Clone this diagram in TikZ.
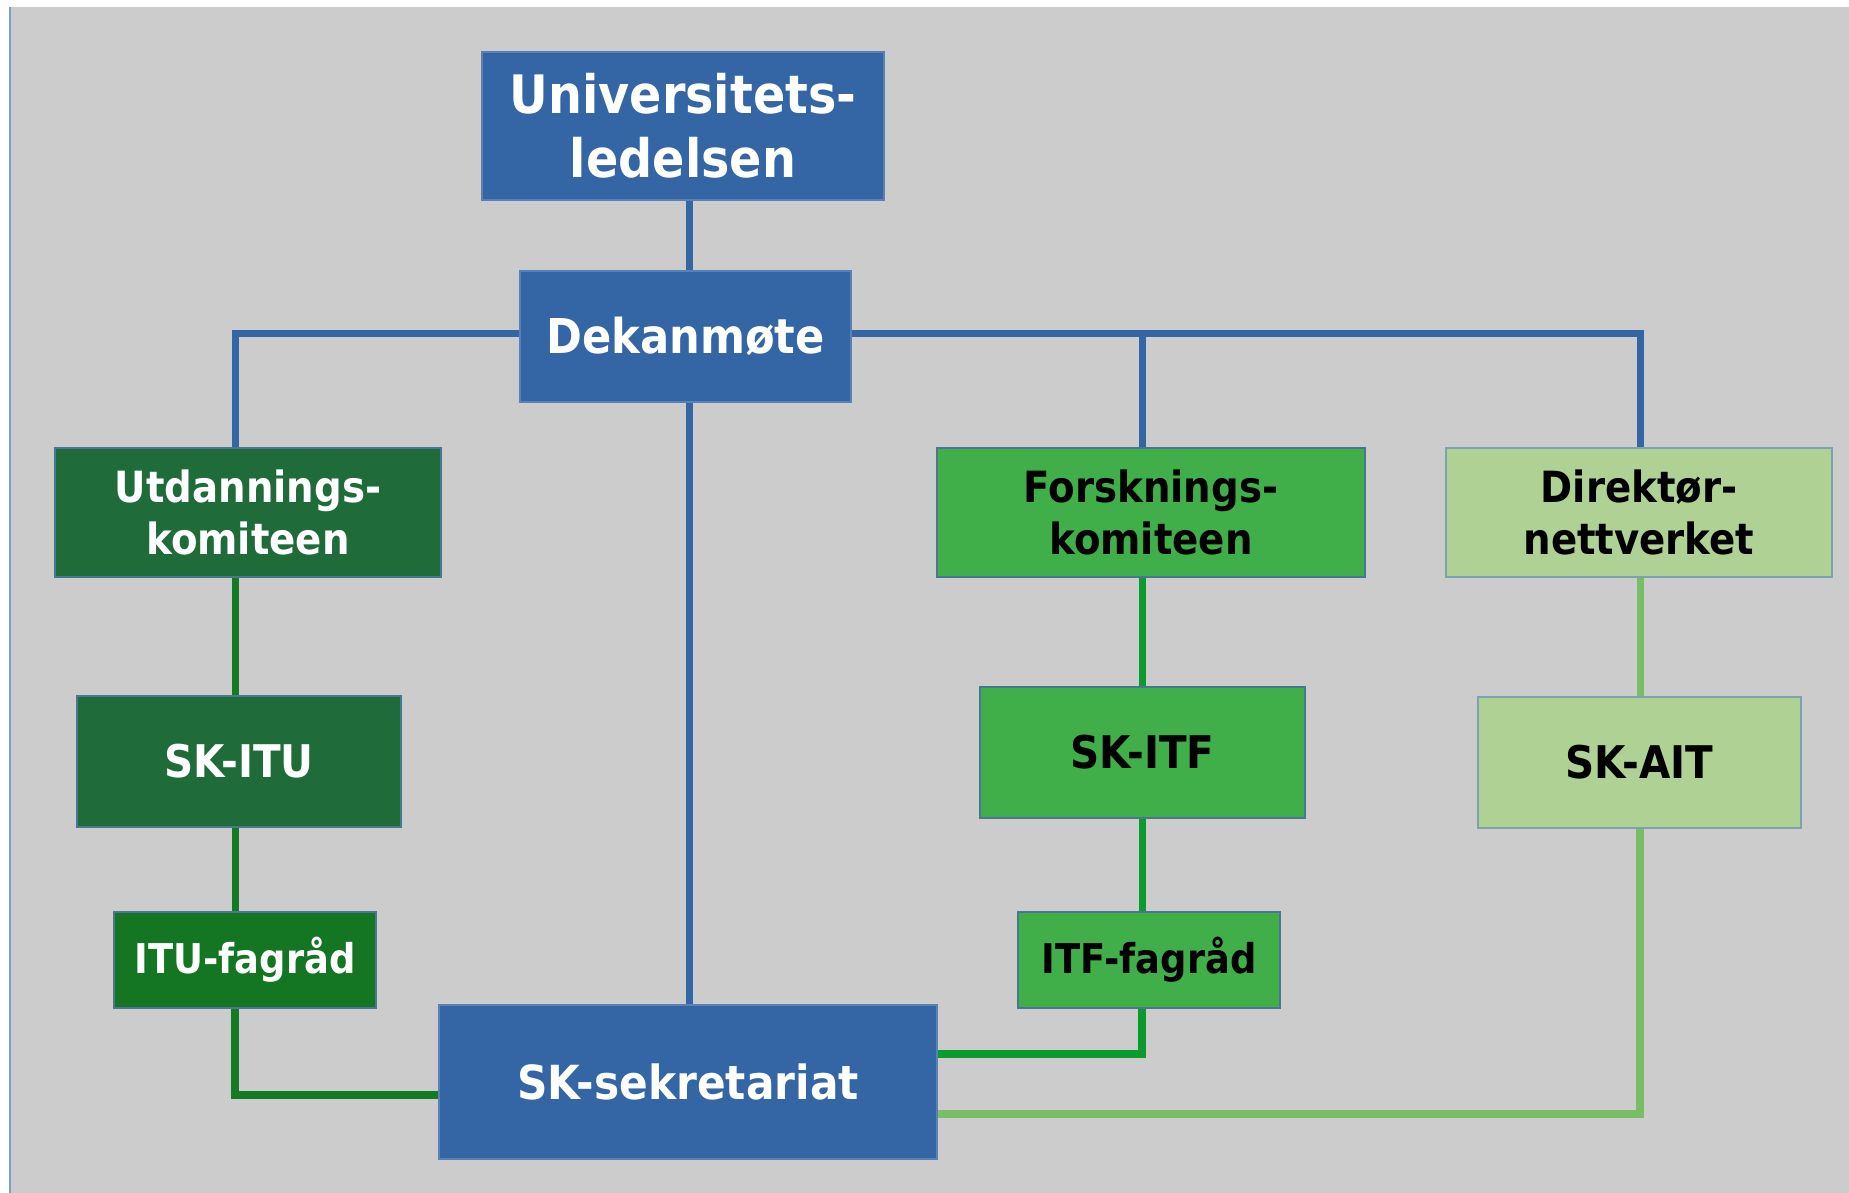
\documentclass[tikz,border=0pt]{standalone}
\usepackage{fontspec}
\newfontfamily\bx[FakeStretch=0.9]{DejaVu Sans}
\definecolor{bggray}{HTML}{CCCCCC}
\definecolor{frameline}{HTML}{7F9CC4}
\definecolor{boxblue}{HTML}{3465A4}
\definecolor{blueedge}{HTML}{5A80B5}
\definecolor{darkgreen}{HTML}{1F6B3A}
\definecolor{fagdark}{HTML}{147522}
\definecolor{midgreen}{HTML}{40AE49}
\definecolor{lightgreen}{HTML}{AFD194}
\definecolor{greenedge}{HTML}{4A7691}
\definecolor{lightedge}{HTML}{7FA2B0}
\definecolor{lineblue}{HTML}{3465A4}
\definecolor{linedark}{HTML}{167A25}
\definecolor{linemid}{HTML}{0B9A2E}
\definecolor{linelight}{HTML}{79BD67}
\pgfdeclarelayer{bg}
\pgfsetlayers{bg,main}
\begin{document}
\begin{tikzpicture}[x=0.5pt,y=-0.5pt,
  orgbox/.style={rectangle, inner sep=0pt, align=center, line width=1pt},
  blueb/.style={orgbox, fill=boxblue, draw=blueedge, text=white},
  darkb/.style={orgbox, fill=darkgreen, draw=greenedge, text=white},
  fagdarkb/.style={orgbox, fill=fagdark, draw=greenedge, text=white},
  midb/.style={orgbox, fill=midgreen, draw=greenedge, text=black},
  lightb/.style={orgbox, fill=lightgreen, draw=lightedge, text=black},
  fbig/.style={font=\bx\bfseries\fontsize{26.5}{32}\selectfont},
  fdek/.style={font=\bx\bfseries\fontsize{24}{29}\selectfont},
  fcom/.style={font=\bx\bfseries\fontsize{21.5}{26}\selectfont},
  fsk/.style={font=\bx\bfseries\fontsize{22.5}{27}\selectfont},
  ffag/.style={font=\bx\bfseries\fontsize{20.5}{25}\selectfont},
  fsek/.style={font=\bx\bfseries\fontsize{23.5}{28}\selectfont},
  conn/.style={line width=3.5pt, line join=miter, line cap=butt},
  bluel/.style={conn, draw=lineblue},
  darkl/.style={conn, draw=linedark},
  midl/.style={conn, draw=linemid},
  lightl/.style={conn, draw=linelight}
]
\useasboundingbox (0,0) rectangle (1849,1193);

% boxes
\node[blueb, fbig, minimum width=201pt, minimum height=74pt] (univ) at (683,126) {Universitets-\\ledelsen};
\node[blueb, fdek, minimum width=165.5pt, minimum height=65.5pt] (dekan) at (685.5,336.5) {Dekanmøte};
\node[darkb, fcom, minimum width=193pt, minimum height=64.5pt] (utd) at (248,512.5) {Utdannings-\\komiteen};
\node[midb, fcom, minimum width=214pt, minimum height=64.5pt] (forsk) at (1151,512.5) {Forsknings-\\komiteen};
\node[lightb, fcom, minimum width=193pt, minimum height=64.5pt] (direk) at (1639,512.5) {Direktør-\\nettverket};
\node[darkb, fsk, minimum width=162pt, minimum height=65.5pt] (skitu) at (239,761.5) {SK-ITU};
\node[midb, fsk, minimum width=162.5pt, minimum height=65.5pt] (skitf) at (1142.5,752.5) {SK-ITF};
\node[lightb, fsk, minimum width=161.5pt, minimum height=65.5pt] (skait) at (1639.5,762.5) {SK-AIT};
\node[fagdarkb, ffag, minimum width=131pt, minimum height=48pt] (itufag) at (245,960) {ITU-fagråd};
\node[midb, ffag, minimum width=131pt, minimum height=48pt] (itffag) at (1149,960) {ITF-fagråd};
\node[blueb, fsek, minimum width=249pt, minimum height=77pt] (sksek) at (688,1082) {SK-sekretariat};

% column and row coordinates
\coordinate (xU) at (235,0);
\coordinate (xM) at (689,0);
\coordinate (xF) at (1142,0);
\coordinate (xD) at (1640,0);
\coordinate (bus) at (0,333);
\coordinate (yU) at (0,1095);
\coordinate (yF) at (0,1054);
\coordinate (yD) at (0,1114);

\begin{pgfonlayer}{bg}
\fill[white] (0,0) rectangle (1849,1193);
\fill[bggray] (11,7) rectangle (1849,1193);
\draw[frameline, line width=1pt] (10,7) -- (10,1193);

% blue connectors
\draw[bluel] (univ.south -| xM) -- (sksek.north -| xM);
\draw[bluel] (utd.north -| xU) |- (bus -| xD) -- (direk.north -| xD);
\draw[bluel] (bus -| xF) -- (forsk.north -| xF);

% dark green
\draw[darkl] (utd.south -| xU) -- (skitu.north -| xU);
\draw[darkl] (skitu.south -| xU) -- (itufag.north -| xU);
\draw[darkl, line width=4pt] (itufag.south -| xU) |- (sksek.west |- yU);

% mid green
\draw[midl] (forsk.south -| xF) -- (skitf.north -| xF);
\draw[midl] (skitf.south -| xF) -- (itffag.north -| xF);
\draw[midl, line width=4pt] (itffag.south -| xF) |- (sksek.east |- yF);

% light green
\draw[lightl] (direk.south -| xD) -- (skait.north -| xD);
\draw[lightl, line width=4pt] (skait.south -| xD) |- (sksek.east |- yD);
\end{pgfonlayer}
\end{tikzpicture}
\end{document}
